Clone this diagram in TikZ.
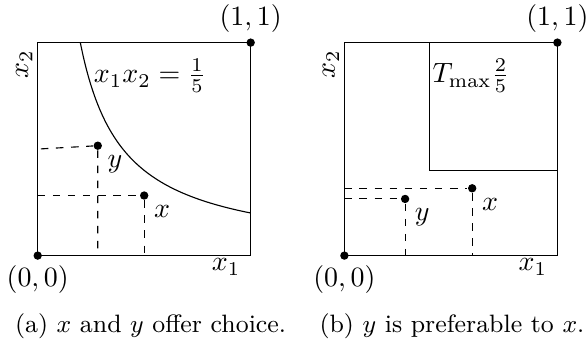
\documentclass[tikz,border=0pt]{standalone}
\usepackage{amsmath, amssymb}
\usetikzlibrary{positioning}

\begin{document}
\begin{tikzpicture}[x=2.68cm, y=2.68cm,
  dot/.style={circle, fill, inner sep=0pt, minimum size=3pt},
  guide/.style={dash pattern=on 2.7pt off 2.7pt},
  capt/.style={font=\small, anchor=base}
]
  \useasboundingbox (-0.177,-0.391) rectangle (2.579,1.200);

  % (a) choice
  \draw (0,0) rectangle (1,1);
  \node[dot] (o1) at (0,0) {};
  \node[dot] (e1) at (1,1) {};
  \node[below] (o1lab) at (o1) {$(0,0)$};
  \node[above] (e1lab) at (e1) {$(1,1)$};
  \node[anchor=north east, inner xsep=3.5pt, inner ysep=1pt] (xa1) at (1,0) {$x_1$};
  \node[rotate=90, anchor=south east, inner xsep=2.5pt, inner ysep=1.7pt] (xb1) at (0,1) {$x_2$};
  \draw plot[domain=0.2:1, samples=60, smooth] (\x,{0.2/\x});
  \node (curve) at (0.527,0.844) {$x_1x_2 = \frac{1}{5}$};

  \node[dot] (x1) at (0.5,0.282) {};
  \node[dot] (y1) at (0.282,0.516) {};
  \coordinate (y1l) at (0.015,0.501);
  \draw[guide] (x1 -| o1) -- (x1) -- (x1 |- o1);
  \draw[guide] (y1l) -- (y1) -- (y1 |- o1);
  \node[below right] (x1lab) at (x1) {$x$};
  \node[below right] (y1lab) at (y1) {$y$};

  % (b) preference
  \begin{scope}[shift={(1.44,0)}]
    \draw (0,0) rectangle (1,1);
    \draw (0.4,1) -- (0.4,0.4) -- (1,0.4);
    \node[dot] (o2) at (0,0) {};
    \node[dot] (e2) at (1,1) {};
    \node[below] (o2lab) at (o2) {$(0,0)$};
    \node[above] (e2lab) at (e2) {$(1,1)$};
    \node[anchor=north east, inner xsep=3.5pt, inner ysep=1pt] (xa2) at (1,0) {$x_1$};
    \node[rotate=90, anchor=south east, inner xsep=2.5pt, inner ysep=1.7pt] (xb2) at (0,1) {$x_2$};
    \node (tmax) at (0.594,0.844) {$T_{\max}\frac{2}{5}$};

    \node[dot] (x2) at (0.6,0.316) {};
    \node[dot] (y2) at (0.285,0.266) {};
    \draw[guide] (x2 -| o2) -- (x2) -- (x2 |- o2);
    \draw[guide] (y2 -| o2) -- (y2) -- (y2 |- o2);
    \node[below right] (x2lab) at (x2) {$x$};
    \node[below right] (y2lab) at (y2) {$y$};
  \end{scope}

  \node[capt] (capa) at (0.530,-0.36) {(a) $x$ and $y$ offer choice.};
  \node[capt] (capb) at (1.945,-0.36) {(b) $y$ is preferable to $x$.};
\end{tikzpicture}
\end{document}
